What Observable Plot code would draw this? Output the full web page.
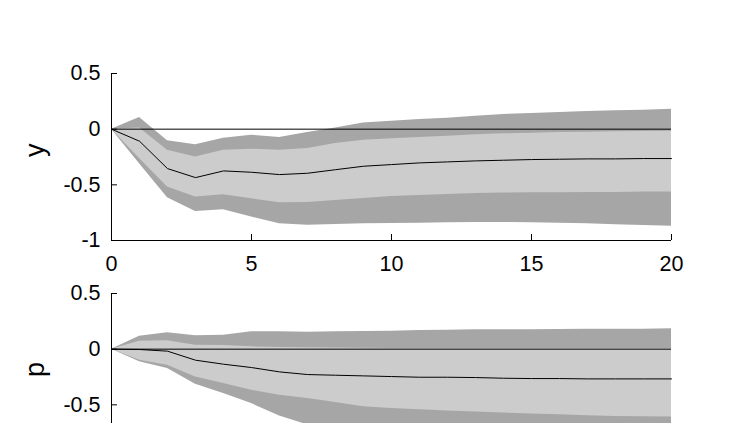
<!DOCTYPE html>
<html><head><meta charset="utf-8">
<script src="https://cdn.jsdelivr.net/npm/d3@7"></script>
<script src="https://cdn.jsdelivr.net/npm/@observablehq/plot@0.6"></script>
<style>
html,body{margin:0;padding:0;overflow:hidden;background:#fff;width:729px;height:423px}
#c{position:relative;width:729px;height:423px;overflow:hidden}
.wrap{position:absolute;left:0;width:729px;overflow:hidden}
</style></head><body><div id="c"></div>
<script>
const horizon = [0,1,2,3,4,5,6,7,8,9,10,11,12,13,14,15,16,17,18,19,20];
const xTicks = [0,5,10,15,20];
const yTicks = [-1,-0.5,0,0.5];
const pTickLabels = [-0.5,0,0.5];

// panel "y"
const yMed     = [0,-0.108,-0.354,-0.435,-0.375,-0.387,-0.408,-0.396,-0.364,-0.333,-0.318,-0.303,-0.294,-0.285,-0.279,-0.273,-0.270,-0.267,-0.267,-0.264,-0.264];
const yInnerHi = [0,0.010,-0.189,-0.249,-0.189,-0.180,-0.189,-0.174,-0.129,-0.099,-0.087,-0.075,-0.063,-0.051,-0.042,-0.036,-0.030,-0.027,-0.024,-0.021,-0.018];
const yInnerLo = [0,-0.264,-0.520,-0.610,-0.589,-0.625,-0.660,-0.658,-0.640,-0.622,-0.604,-0.595,-0.586,-0.577,-0.574,-0.571,-0.571,-0.568,-0.568,-0.565,-0.565];
const yOuterHi = [0,0.105,-0.105,-0.141,-0.081,-0.054,-0.075,-0.030,0.010,0.055,0.072,0.087,0.099,0.117,0.132,0.141,0.150,0.159,0.165,0.171,0.180];
const yOuterLo = [0,-0.310,-0.616,-0.739,-0.724,-0.790,-0.850,-0.862,-0.856,-0.850,-0.847,-0.844,-0.841,-0.838,-0.838,-0.841,-0.844,-0.850,-0.859,-0.865,-0.871];

// panel "p"
const pMed     = [0,-0.003,-0.018,-0.099,-0.135,-0.165,-0.204,-0.228,-0.234,-0.240,-0.246,-0.252,-0.252,-0.255,-0.261,-0.264,-0.264,-0.267,-0.267,-0.267,-0.267];
const pInnerHi = [0,0.072,0.075,0.036,0.033,0.021,0.015,0.012,0.010,0.008,0.007,0.006,0.005,0.005,0.005,0.005,0.005,0.005,0.005,0.005,0.005];
const pInnerLo = [0,-0.099,-0.144,-0.249,-0.309,-0.369,-0.414,-0.444,-0.480,-0.517,-0.532,-0.544,-0.556,-0.565,-0.574,-0.583,-0.589,-0.598,-0.604,-0.607,-0.610];
const pOuterHi = [0,0.117,0.147,0.120,0.126,0.156,0.156,0.153,0.156,0.159,0.162,0.168,0.171,0.174,0.174,0.174,0.177,0.180,0.180,0.180,0.183];
const pOuterLo = [0,-0.114,-0.174,-0.315,-0.399,-0.489,-0.600,-0.680,-0.720,-0.750,-0.770,-0.780,-0.790,-0.800,-0.810,-0.820,-0.830,-0.830,-0.840,-0.840,-0.850];

const DARK = "#a6a6a6", LIGHT = "#cccccc";
const FONT = "'Liberation Sans', Arial, Helvetica, sans-serif";
const TICK_FS = 21.5, LABEL_FS = 27;

function panel(label, med, iLo, iHi, oLo, oHi, marginTop, top, visibleHeight, yLabelTicks, showXLabels) {
  const rows = horizon.map((h, i) => ({h, med: med[i], iLo: iLo[i], iHi: iHi[i], oLo: oLo[i], oHi: oHi[i]}));
  const marks = [
    Plot.areaY(rows, {x: "h", y1: "oLo", y2: "oHi", fill: DARK}),
    Plot.areaY(rows, {x: "h", y1: "iLo", y2: "iHi", fill: LIGHT}),
    Plot.ruleY([0], {stroke: "black", strokeWidth: 1}),
    Plot.lineY(rows, {x: "h", y: "med", stroke: "black", strokeWidth: 1}),
    Plot.ruleX([0], {stroke: "black", strokeWidth: 1}),
    Plot.ruleY([-1], {stroke: "black", strokeWidth: 1}),
    Plot.axisX(xTicks, {tickSize: 6, dy: -6, tickFormat: () => "", label: null}),
    Plot.axisY(yTicks, {tickSize: 6, dx: 6, tickFormat: () => "", label: null}),
    Plot.axisY(yLabelTicks, {tickSize: 0, tickPadding: 11, fontSize: TICK_FS, tickFormat: d => String(d), label: null}),
    Plot.text([label], {text: d => d, frameAnchor: "left", dx: -76, rotate: -90, fontSize: LABEL_FS})
  ];
  if (showXLabels) marks.push(Plot.axisX(xTicks, {tickSize: 0, tickPadding: 15, fontSize: TICK_FS, tickFormat: d => String(d), label: null}));
  const svg = Plot.plot({
    width: 729, height: marginTop + 167 + 40, marginTop, marginBottom: 40, marginLeft: 111, marginRight: 58,
    x: {domain: [0, 20]},
    y: {domain: [-1, 0.5]},
    style: {fontFamily: FONT, fontSize: TICK_FS + "px", color: "black", background: "transparent"},
    marks
  });
  const wrap = document.createElement("div");
  wrap.className = "wrap";
  wrap.style.top = top + "px";
  wrap.style.height = visibleHeight + "px";
  wrap.appendChild(svg);
  document.getElementById("c").appendChild(wrap);
}

panel("y", yMed, yInnerLo, yInnerHi, yOuterLo, yOuterHi, 73, 0, 280, yTicks, true);
panel("p", pMed, pInnerLo, pInnerHi, pOuterLo, pOuterHi, 13, 280, 143, pTickLabels, false);
</script>
</body></html>
